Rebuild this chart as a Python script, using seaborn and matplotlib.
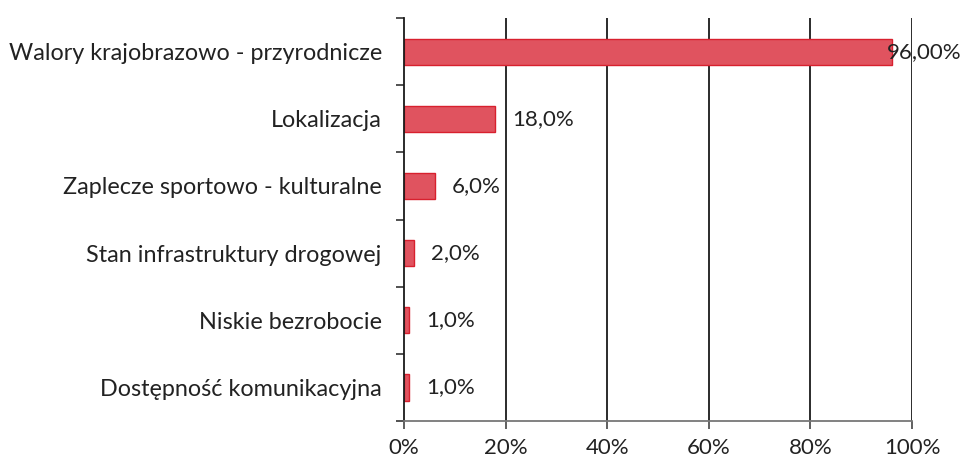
import matplotlib
matplotlib.use("Agg")
import matplotlib.pyplot as plt
import seaborn as sns
import pandas as pd
import numpy as np

categories = [
    "Walory krajobrazowo - przyrodnicze",
    "Lokalizacja",
    "Zaplecze sportowo - kulturalne",
    "Stan infrastruktury drogowej",
    "Niskie bezrobocie",
    "Dostępność komunikacyjna",
]
values = [96.0, 18.0, 6.0, 2.0, 1.0, 1.0]
value_labels = ["96,00%", "18,0%", "6,0%", "2,0%", "1,0%", "1,0%"]
x_ticks = [0, 20, 40, 60, 80, 100]
x_tick_labels = ["0%", "20%", "40%", "60%", "80%", "100%"]

sns.set_theme(style="white")
plt.rcParams["font.family"] = ["Lato", "DejaVu Sans"]

df = pd.DataFrame({"category": categories, "value": values})

fig = plt.figure(figsize=(9.62, 4.63), dpi=100)
ax = fig.add_axes([0.42, 0.0907, 0.528, 0.8703])

sns.barplot(data=df, y="category", x="value", orient="h", ax=ax,
            color="#e0535f", width=0.39, edgecolor="#d8202e", linewidth=1.0,
            saturation=1)

ax.set_xlim(0, 100)
ax.set_ylim(len(categories) - 0.5, -0.5)
ax.set_xlabel("")
ax.set_ylabel("")

# vertical gridlines
for t in x_ticks[1:]:
    ax.axvline(t, color="#1a1a1a", lw=1.3, zorder=0)

ax.set_xticks(x_ticks)
ax.set_xticklabels(x_tick_labels, fontsize=16, color="#222222")
ax.tick_params(axis="x", bottom=True, length=6, width=1.2, color="#444444", pad=6)

# category labels at bar centres, small boundary ticks on the axis
ax.set_yticks(range(len(categories)))
ax.set_yticklabels(categories, fontsize=16.8, color="#222222")
ax.tick_params(axis="y", which="major", left=False, length=0, pad=16)
ax.set_yticks(np.arange(-0.5, len(categories), 1.0), minor=True)
ax.tick_params(axis="y", which="minor", left=True, length=6, width=1.2, color="#333333")

for side in ["top", "right"]:
    ax.spines[side].set_visible(False)
ax.spines["left"].set_color("#1a1a1a")
ax.spines["left"].set_linewidth(1.3)
ax.spines["bottom"].set_color("#777777")
ax.spines["bottom"].set_linewidth(1.3)

for i, (v, lab) in enumerate(zip(values, value_labels)):
    dx = -5 if v > 90 else 17
    ax.annotate(lab, xy=(v, i), xytext=(dx, 0), textcoords="offset pixels",
                ha="left", va="center", fontsize=16, color="#222222")

fig.savefig("out.png", dpi=100, facecolor="white")
